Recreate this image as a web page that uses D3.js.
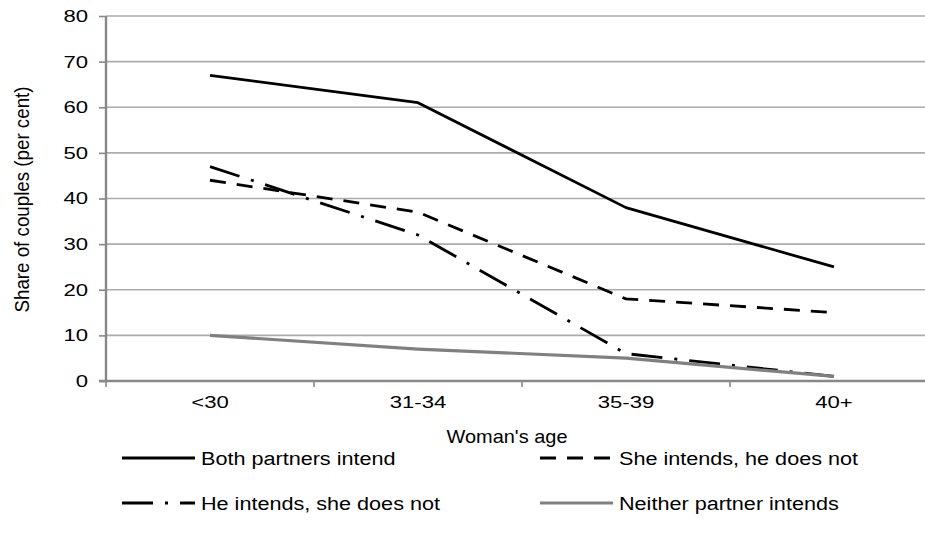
<!DOCTYPE html>
<html>
<head>
<meta charset="utf-8">
<script src="https://cdn.jsdelivr.net/npm/d3@7"></script>
<style>
  html, body { margin: 0; padding: 0; background: #fff; }
  svg { display: block; }
  text { font-family: "Liberation Sans", Arial, sans-serif; fill: #000; }
</style>
</head>
<body>
<svg id="chart" width="925" height="535"></svg>
<script>
const categories = ["<30", "31-34", "35-39", "40+"];
const bothIntend = [67, 61, 38, 25];
const sheIntends = [44, 37, 18, 15];
const heIntends = [47, 32, 6, 1];
const neitherIntends = [10, 7, 5, 1];
const seriesNames = ["Both partners intend", "She intends, he does not", "He intends, she does not", "Neither partner intends"];
const yTicks = [0, 10, 20, 30, 40, 50, 60, 70, 80];
const xTitle = "Woman's age";
const yTitle = "Share of couples (per cent)";

const series = [
  { name: seriesNames[0], values: bothIntend, color: "#000", width: 2.8, dash: null },
  { name: seriesNames[1], values: sheIntends, color: "#000", width: 2.8, dash: "16,11" },
  { name: seriesNames[2], values: heIntends, color: "#000", width: 2.8, dash: "31,12,3,12" },
  { name: seriesNames[3], values: neitherIntends, color: "#808080", width: 3.2, dash: null }
];

const svg = d3.select("#chart");
svg.append("rect").attr("width", 925).attr("height", 535).attr("fill", "#fff");

const pLeft = 106, pRight = 938, pTop = 16, pBottom = 381;
const x = d3.scaleBand().domain(categories).range([pLeft, pRight]).padding(0);
const y = d3.scaleLinear().domain([0, 80]).range([pBottom, pTop]);

function stretch(sel, f) {
  sel.each(function() {
    const w = this.getComputedTextLength();
    d3.select(this).attr("textLength", w * f).attr("lengthAdjust", "spacingAndGlyphs");
  });
}

// gridlines
svg.append("g").selectAll("line").data(yTicks.filter(d => d > 0)).join("line")
  .attr("x1", pLeft).attr("x2", pRight)
  .attr("y1", d => y(d)).attr("y2", d => y(d))
  .attr("stroke", "#ababab").attr("stroke-width", 1.6);

// y axis
const yAxis = svg.append("g").attr("transform", `translate(${pLeft},0)`)
  .call(d3.axisLeft(y).tickValues(yTicks).tickSize(7).tickPadding(11));
yAxis.select(".domain").attr("stroke", "#888").attr("stroke-width", 2.4).attr("d", `M0,${pTop}V${pBottom}`);
yAxis.selectAll(".tick line").attr("stroke", "#888").attr("stroke-width", 1.6);
yAxis.selectAll(".tick text").attr("font-size", 17).attr("font-family", "Liberation Sans, Arial, sans-serif")
  .attr("fill", "#000").call(stretch, 1.3);

// x axis
const xAxis = svg.append("g").attr("transform", `translate(0,${pBottom})`)
  .call(d3.axisBottom(x).tickSize(0).tickPadding(15));
xAxis.select(".domain").attr("stroke", "#888").attr("stroke-width", 2.4).attr("d", `M${pLeft - 7},0H${pRight}`);
xAxis.selectAll(".tick text").attr("font-size", 17).attr("font-family", "Liberation Sans, Arial, sans-serif")
  .attr("fill", "#000").call(stretch, 1.3);
const bounds = categories.map(c => x(c)).concat([x(categories[categories.length - 1]) + x.bandwidth()]);
xAxis.append("g").selectAll("line").data(bounds).join("line")
  .attr("x1", d => d).attr("x2", d => d).attr("y1", 0).attr("y2", 6)
  .attr("stroke", "#888").attr("stroke-width", 1.6);

// axis titles
svg.append("text").attr("x", 507).attr("y", 443).attr("text-anchor", "middle")
  .attr("font-size", 19).text(xTitle).call(stretch, 1.05);
svg.append("text").attr("transform", `translate(29,${(pTop + pBottom) / 2 + 1}) rotate(-90)`)
  .attr("text-anchor", "middle").attr("font-size", 20).text(yTitle)
  .attr("textLength", 226).attr("lengthAdjust", "spacingAndGlyphs");

// lines
const line = d3.line().x((d, i) => x(categories[i]) + x.bandwidth() / 2).y(d => y(d));
svg.append("g").selectAll("path").data(series).join("path")
  .attr("d", d => line(d.values))
  .attr("fill", "none")
  .attr("stroke", d => d.color)
  .attr("stroke-width", d => d.width)
  .attr("stroke-dasharray", d => d.dash)
  .attr("stroke-linejoin", "round");

// legend
const legendPos = [[122, 458], [540, 458], [122, 503], [540, 503]];
const lg = svg.append("g").selectAll("g").data(series).join("g")
  .attr("transform", (d, i) => `translate(${legendPos[i][0]},${legendPos[i][1]})`);
lg.append("line").attr("x1", 0).attr("x2", 73).attr("y1", 0).attr("y2", 0)
  .attr("stroke", d => d.color).attr("stroke-width", d => d.width)
  .attr("stroke-dasharray", d => d.dash);
lg.append("text").attr("x", 79).attr("y", 6.5).attr("font-size", 18)
  .text(d => d.name).call(stretch, 1.2);
</script>
</body>
</html>
